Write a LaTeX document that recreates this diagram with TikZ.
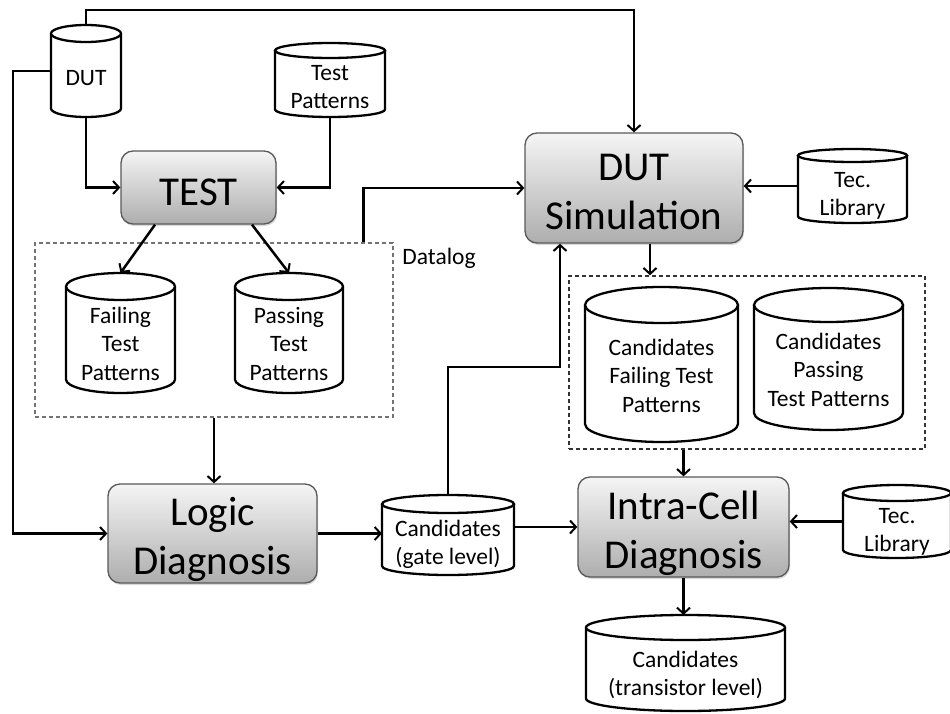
\documentclass[tikz,border=0pt]{standalone}
\usepackage{fontspec}
\setmainfont{Carlito}
\usetikzlibrary{arrows.meta,shadows}
\tikzset{
  arr/.style={line width=2.5pt, -{Straight Barb[length=6pt,width=13pt,line width=2pt]}},
  conn/.style={line width=2.5pt},
  proc/.style={draw=black!65, line width=1.3pt, rounded corners=12pt, top color=black!4, bottom color=black!32,
    drop shadow={shadow xshift=1pt, shadow yshift=-2pt, opacity=0.3}},
  bigtxt/.style={font=\fontsize{41}{49}\selectfont, align=center, inner sep=0pt},
  smalltxt/.style={font=\fontsize{23.5}{28.5}\selectfont, align=center, inner sep=0pt},
  cylbox/.style={draw=none, inner sep=0pt, outer sep=0pt},
  cylline/.style={line width=2.3pt, fill=white},
  dashbox/.style={draw=black!55, line width=1.4pt, dash pattern=on 4pt off 3pt, inner sep=0pt},
}
% name, cx, top, w, h, ry, text y, text
\newcommand\dbcyl[8]{%
  \node[cylbox, minimum width=#4pt, minimum height=#5pt] (#1) at (#2,{#3+#5/2}) {};
  \draw[cylline] ({#2-#4/2},{#3+#6}) -- ({#2-#4/2},{#3+#5-#6})
     arc[start angle=180,end angle=360,x radius={#4*0.5pt},y radius={#6*1pt}]
     -- ({#2+#4/2},{#3+#6});
  \draw[cylline] (#2,{#3+#6}) ellipse[x radius={#4*0.5pt}, y radius={#6*1pt}];
  \node[smalltxt] (#1-t) at (#2,#7) {#8};
}
\begin{document}
\begin{tikzpicture}[x=1pt,y=-1pt]
\useasboundingbox (0,0) rectangle (950,714);

% dashed groups
\node[dashbox, minimum width=358pt, minimum height=174pt] (dl) at (214,330) {};
\node[smalltxt] (datalog) at (439,259) {\strut Datalog};
\node[dashbox, draw=black!80, minimum width=356pt, minimum height=173pt] (dl2) at (747,362.5) {};

% process boxes
\node[proc, minimum width=155pt, minimum height=73pt] (test) at (198.5,187.5) {};
\node[bigtxt] (test-t) at (198.5,196) {\strut TEST};
\node[proc, minimum width=218pt, minimum height=110pt] (dutsim) at (634,188) {};
\node[bigtxt] (dutsim-t) at (634,195) {\strut DUT\\\strut Simulation};
\node[proc, minimum width=209pt, minimum height=99pt] (logic) at (212.5,533.5) {};
\node[bigtxt] (logic-t) at (212.5,540) {\strut Logic\\\strut Diagnosis};
\node[proc, minimum width=211pt, minimum height=100pt] (intra) at (683.5,527) {};
\node[bigtxt] (intra-t) at (683.5,534) {\strut Intra-Cell\\\strut Diagnosis};

% databases
\dbcyl{dut}{86}{25}{70}{92}{8.5}{80}{\strut DUT}
\dbcyl{tp}{330}{43}{110}{74}{7.5}{89}{\strut Test\\\strut Patterns}
\dbcyl{fail}{120.5}{273}{109}{120}{13.5}{346}{\strut Failing\\\strut Test\\\strut Patterns}
\dbcyl{pass}{289}{273}{108}{120}{13.5}{346}{\strut Passing\\\strut Test\\\strut Patterns}
\dbcyl{tec1}{852.5}{149}{109}{74}{6.5}{196}{\strut Tec.\\\strut Library}
\dbcyl{cfail}{661.5}{287}{153}{155}{18}{378}{\strut Candidates\\\strut Failing Test\\\strut Patterns}
\dbcyl{cpass}{828.5}{288}{149}{142}{17}{372}{\strut Candidates\\\strut Passing\\\strut Test Patterns}
\dbcyl{gate}{448}{495}{132}{80}{9}{545}{\strut Candidates\\\strut (gate level)}
\dbcyl{tec2}{897}{485}{108}{73}{8}{532}{\strut Tec.\\\strut Library}
\dbcyl{trans}{685.5}{615}{199}{96}{12.5}{676}{\strut Candidates\\\strut (transistor level)}

% helper coordinates
\coordinate (topy) at (0,10);
\coordinate (leftx) at (13,0);
\coordinate (gy) at (0,367);

% connectors
\draw[arr] (dut.north) -- (dut.north |- topy) -| (dutsim.north);
\draw[arr] (dut.west) -- (dut.west -| leftx) |- (logic.west);
\draw[arr] (dut.south) |- (test.west);
\draw[arr] (tp.south) |- (test.east);
\draw[arr] ([xshift=-43.5pt]test.south) -- (fail.north);
\draw[arr] ([xshift=53.5pt]test.south) -- (pass.north);
\draw[arr] ([xshift=-30pt]dl.north east) |- (dutsim.west);
\draw[arr] (dl.south) -- (dl.south |- logic.north);
\draw[arr] (logic.east) -- (logic.east -| gate.west);
\draw[arr] (gate.north) -- (gate.north |- gy) -| ([xshift=-74pt]dutsim.south);
\draw[arr] (gate.east |- intra.west) -- (intra.west);
\draw[arr] (tec1.west) -- (tec1.west -| dutsim.east);
\draw[arr] ([xshift=16pt]dutsim.south) -- ([xshift=16pt]dutsim.south |- dl2.north);
\draw[arr] (intra.north |- dl2.south) -- (intra.north);
\draw[arr] (tec2.west) -- (tec2.west -| intra.east);
\draw[arr] (intra.south) -- (intra.south |- trans.north);
\end{tikzpicture}
\end{document}
